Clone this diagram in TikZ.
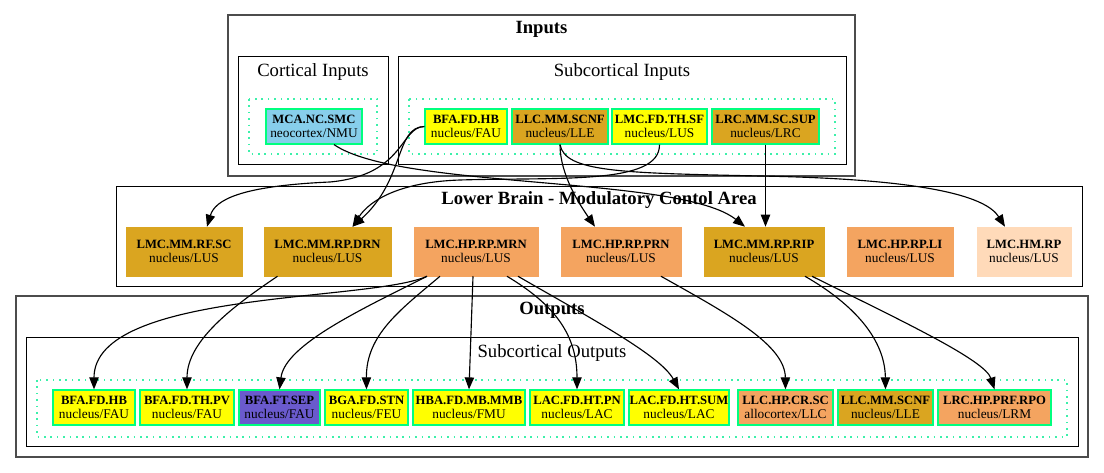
\documentclass[tikz,border=0pt]{standalone}
\usepackage{fontspec}
\setmainfont{Liberation Serif}
\usetikzlibrary{positioning, arrows.meta, calc}
\definecolor{gvjaune}{RGB}{255,255,0}
\definecolor{gvor}{RGB}{218,165,32}
\definecolor{gvsable}{RGB}{244,164,96}
\definecolor{gvpeche}{RGB}{255,218,185}
\definecolor{gvciel}{RGB}{135,206,235}
\definecolor{gvardoise}{RGB}{106,90,205}
\definecolor{gvvert}{RGB}{0,255,127}
\definecolor{gvpoint}{RGB}{60,240,170}

\tikzset{
  boite/.style={draw=gvvert, line width=0.9pt, inner sep=0pt, minimum height=35*0.75pt, align=center, font=\fontsize{10}{10}\selectfont},
  bloc/.style={inner sep=0pt, minimum height=49*0.75pt, align=center, font=\fontsize{10}{10}\selectfont},
  cadre/.style={draw=black!70, line width=1.2pt},
  souscadre/.style={draw=black, line width=0.75pt},
  pointille/.style={draw=gvpoint, line width=1.2pt, dash pattern=on 1.2pt off 3.6pt},
  titre/.style={font=\fontsize{14}{14}\selectfont},
  titregras/.style={font=\fontsize{14}{14}\selectfont\bfseries},
  lien/.style={-{Triangle[length=9pt, width=7pt]}, line width=0.85pt},
}
\newcommand{\etiq}[2]{{\fontsize{9.5}{10}\selectfont\bfseries #1}\\#2}

\begin{document}
\begin{tikzpicture}[x=0.75pt, y=-0.75pt]
\useasboundingbox (0,0) rectangle (1104,473);

% Entrees
\draw[cadre] (228,15) rectangle (855,176);
\node[titregras] (tin) at (541.5,29) {Inputs};
\draw[souscadre] (238,57) rectangle (388,165);
\node[titre] (tcort) at (313,72) {Cortical Inputs};
\draw[pointille] (249,99) rectangle (377,154);
\draw[souscadre] (398,57) rectangle (846,165);
\node[titre] (tsubin) at (622,72) {Subcortical Inputs};
\draw[pointille] (409,99) rectangle (835,154);

\node[boite, fill=gvciel, minimum width=96*0.75pt] (mca) at (314,126.5) {\etiq{MCA.NC.SMC}{neocortex/NMU}};
\foreach \id/\x/\w/\c/\nm/\ty/\rg in {bfain/466/82/gvjaune/BFA.FD.HB/nucleus/FAU,
    llcin/560/96/gvor/LLC.MM.SCNF/nucleus/LLE,
    lmcin/659.5/95/gvjaune/LMC.FD.TH.SF/nucleus/LUS,
    lrcin/765.5/107/gvor/LRC.MM.SC.SUP/nucleus/LRC} {
  \node[boite, fill=\c, minimum width=\w*0.75pt] (\id) at (\x,126.5) {\etiq{\nm}{\ty/\rg}};
}

% Tronc cerebral
\draw[souscadre] (116,187) rectangle (1082,287);
\node[titregras] (tlow) at (599,200) {Lower Brain - Modulatory Contol Area};
\foreach \id/\x/\w/\c/\nm in {rfsc/184/116/gvor/LMC.MM.RF.SC,
    drn/327.5/127/gvor/LMC.MM.RP.DRN,
    mrn/476/124/gvsable/LMC.HP.RP.MRN,
    prn/621/120/gvsable/LMC.HP.RP.PRN,
    rip/764/120/gvor/LMC.MM.RP.RIP,
    li/900/106/gvsable/LMC.HP.RP.LI,
    hmrp/1024/94/gvpeche/LMC.HM.RP} {
  \node[bloc, fill=\c, draw=\c, minimum width=\w*0.75pt] (\id) at (\x,251.5) {\etiq{\nm}{nucleus/LUS}};
}

% Sorties
\draw[cadre] (16,296) rectangle (1088,457);
\node[titregras] (tout) at (552,310) {Outputs};
\draw[souscadre] (26,338) rectangle (1078,447);
\node[titre] (tsubout) at (552,353) {Subcortical Outputs};
\draw[pointille] (37,380) rectangle (1067,437);
\foreach \id/\x/\w/\c/\nm/\ty/\rg in {ohb/94/82/gvjaune/BFA.FD.HB/nucleus/FAU,
    othpv/187/94/gvjaune/BFA.FD.TH.PV/nucleus/FAU,
    osep/279.5/81/gvardoise/BFA.FT.SEP/nucleus/FAU,
    ostn/366.5/83/gvjaune/BGA.FD.STN/nucleus/FEU,
    ommb/469/112/gvjaune/HBA.FD.MB.MMB/nucleus/FMU,
    opn/577/94/gvjaune/LAC.FD.HT.PN/nucleus/LAC,
    osum/679/100/gvjaune/LAC.FD.HT.SUM/nucleus/LAC,
    ocrsc/785.5/95/gvsable/LLC.HP.CR.SC/allocortex/LLC,
    oscnf/885.5/95/gvor/LLC.MM.SCNF/nucleus/LLE,
    orpo/994.5/113/gvsable/LRC.HP.PRF.RPO/nucleus/LRM} {
  \node[boite, fill=\c, minimum width=\w*0.75pt] (\id) at (\x,407.5) {\etiq{\nm}{\ty/\rg}};
}

% Liens entrees -> tronc
\draw[lien] ($(mca.south)+(20,0)$) .. controls (400,190) and (680,175) .. ($(rip.north)+(-19,0)$);
\draw[lien] (bfain.west) .. controls (400,127) and (405,175) .. (330,182) .. controls (240,186) and (215,200) .. ($(rfsc.north)+(23,0)$);
\draw[lien] (bfain.west) .. controls (395,127) and (405,180) .. ($(drn.north)+(25,0)$);
\draw[lien] (llcin.south) .. controls (560,175) and (580,205) .. ($(prn.north)+(-26,0)$);
\draw[lien] (llcin.south) .. controls (565,172) and (620,173) .. (760,176) .. controls (920,179) and (985,195) .. ($(hmrp.north)+(-19,0)$);
\draw[lien] (lmcin.south) .. controls (660,185) and (560,177) .. (460,180) .. controls (400,182) and (370,200) .. ($(drn.north)+(25,0)$);
\draw[lien] (lrcin.south) -- (lrcin.south |- rip.north);

% Liens tronc -> sorties
\draw[lien] ($(drn.south)+(-50,0)$) .. controls (235,305) and (187,340) .. (othpv.north);
\draw[lien] ($(mrn.south)+(-49,0)$) .. controls (370,302) and (94,290) .. (ohb.north);
\draw[lien] ($(mrn.south)+(-49,0)$) .. controls (360,310) and (285,345) .. (osep.north);
\draw[lien] ($(mrn.south)+(-36,0)$) .. controls (400,310) and (366,335) .. (ostn.north);
\draw[lien] ($(mrn.south)+(-3,0)$) -- (ommb.north);
\draw[lien] ($(mrn.south)+(31,0)$) .. controls (555,305) and (577,335) .. (opn.north);
\draw[lien] ($(mrn.south)+(42,0)$) .. controls (590,318) and (660,355) .. (osum.north);
\draw[lien] ($(prn.south)+(40,0)$) .. controls (730,315) and (785,345) .. (ocrsc.north);
\draw[lien] ($(rip.south)+(41,0)$) .. controls (855,305) and (885,340) .. (oscnf.north);
\draw[lien] ($(rip.south)+(48,0)$) .. controls (900,320) and (985,360) .. (orpo.north);

\end{tikzpicture}
\end{document}
